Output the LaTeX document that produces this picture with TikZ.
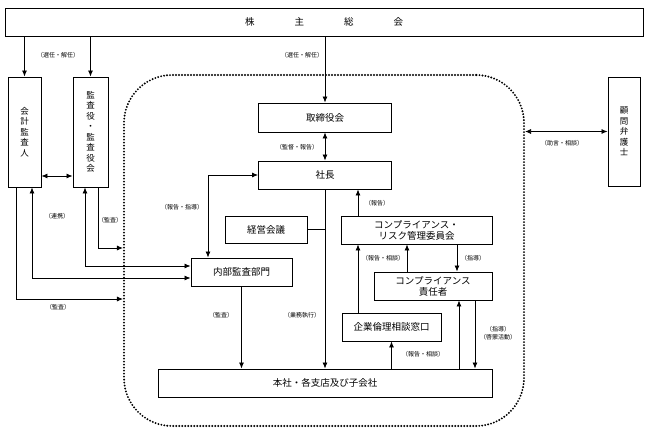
\documentclass[tikz,border=0pt]{standalone}
\usepackage{fontspec}
\setmainfont{Noto Sans CJK JP}
\usetikzlibrary{arrows.meta}

\begin{document}
\begin{tikzpicture}[x=1pt, y=-1pt, line width=0.8pt, >={Latex[length=6pt,width=5pt]},
  box/.style={draw, line width=0.9pt, inner sep=0pt, align=center, font=\fontsize{9.5}{11}\selectfont},
  vbox/.style={box, font=\fontsize{8.5}{10.5}\selectfont},
  lbl/.style={inner sep=0pt, align=center, font=\fontsize{6}{7.5}\selectfont},
  frame/.style={draw, line width=2.1pt, line cap=round, dash pattern=on 0pt off 3pt, rounded corners=48pt}]
\useasboundingbox (0,0) rectangle (648,433);
\node[frame, minimum width=400pt, minimum height=351pt] (grp) at (324,250.5) {};
\node[box, minimum width=638pt, minimum height=28pt] (soukai) at (324,22) {株\hspace{40pt}主\hspace{40pt}総\hspace{40pt}会};
\node[vbox, minimum width=33pt, minimum height=110pt] (kaikei) at (24.5,132) {\fontsize{8.5}{11.5}\selectfont 会\\計\\監\\査\\人};
\node[vbox, minimum width=35pt, minimum height=110pt] (kansa) at (90.5,132) {監\\査\\役\\・\\監\\査\\役\\会};
\node[vbox, minimum width=32pt, minimum height=109pt] (komon) at (624,131.5) {\fontsize{8.5}{9.5}\selectfont 顧\\問\\弁\\護\\士};
\node[box, minimum width=133pt, minimum height=29pt] (torishimari) at (325,117.5) {取締役会};
\node[box, minimum width=133pt, minimum height=28pt] (shacho) at (325,175) {社長};
\node[box, minimum width=82pt, minimum height=27pt] (keiei) at (266,229.5) {経営会議};
\node[box, minimum width=151pt, minimum height=28pt] (iinkai) at (416.5,230) {コンプライアンス・\\リスク管理委員会};
\node[box, minimum width=101pt, minimum height=28pt] (naibu) at (241.5,272) {内部監査部門};
\node[box, minimum width=118pt, minimum height=28pt] (sekinin) at (433,286) {コンプライアンス\\責任者};
\node[box, minimum width=99pt, minimum height=28pt] (rinri) at (391.5,327) {企業倫理相談窓口};
\node[box, minimum width=334pt, minimum height=28pt] (honsha) at (325,383) {本社・各支店及び子会社};
\foreach \n/\x/\y in {renkei/0/176, lkA/98/248, lkB/85/266, lkC/32/278, lkD/16/299, lkE/208/0, lkF/358/0, lkG/407/0, lkH/457/0, lkJ/459/0, lkK/475/0}{
\coordinate (\n) at (\x,\y);
}
\foreach \n/\x/\y/\t in {lsenA/58/55/（選任・解任）, lsenB/302/55/（選任・解任）, lkantoku/297/147/（監督・報告）, lhoshi/182/207/（報告・指導）, lhoku/377/203/（報告）, lren/57/216/（連携）, lkanA/110/220/（監査）, lkanB/58/307/（監査）, lkanC/221/315/（監査）, lgyomu/302/315/（業務執行）, lsodA/383/258/（報告・相談）, lshido/473/258/（指導）, lsodB/423/354/（報告・相談）, lkeimo/498/333/{（指導）\\（啓蒙活動）}, ljogen/562/143/（助言・相談）}{
\node[lbl] (\n) at (\x,\y) {\t};
}
\draw[->] (soukai.south -| kaikei.north) -- (kaikei.north);
\draw[->] (soukai.south -| kansa.north) -- (kansa.north);
\draw[->] (soukai.south -| torishimari.north) -- (torishimari.north);
\draw[<->] (kaikei.east |- renkei) -- (kansa.west |- renkei);
\draw[->] (kansa.south -| lkA) |- (grp.west |- lkA);
\draw[<->] (kansa.south -| lkB) |- (naibu.west |- lkB);
\draw[<->] (kaikei.south -| lkC) |- (naibu.west |- lkC);
\draw[->] (kaikei.south -| lkD) |- (grp.west |- lkD);
\draw[<->] (grp.east |- komon.west) -- (komon.west);
\draw[<->] (torishimari) -- (shacho);
\draw[<->] (shacho.west) -| (naibu.north -| lkE);
\draw[->] (shacho.south) -- (shacho.south |- honsha.north);
\draw (keiei.east) -- (keiei.east -| shacho.south);
\draw[->] (naibu.south) -- (naibu.south |- honsha.north);
\draw[->] (iinkai.north -| lkF) -- (shacho.south -| lkF);
\draw[->] (rinri.north -| lkF) -- (iinkai.south -| lkF);
\draw[->] (sekinin.north -| lkG) -- (iinkai.south -| lkG);
\draw[->] (iinkai.south -| lkH) -- (sekinin.north -| lkH);
\draw[->] (honsha.north -| rinri.south) -- (rinri.south);
\draw[->] (honsha.north -| lkJ) -- (sekinin.south -| lkJ);
\draw[->] (sekinin.south -| lkK) -- (honsha.north -| lkK);
\end{tikzpicture}
\end{document}
